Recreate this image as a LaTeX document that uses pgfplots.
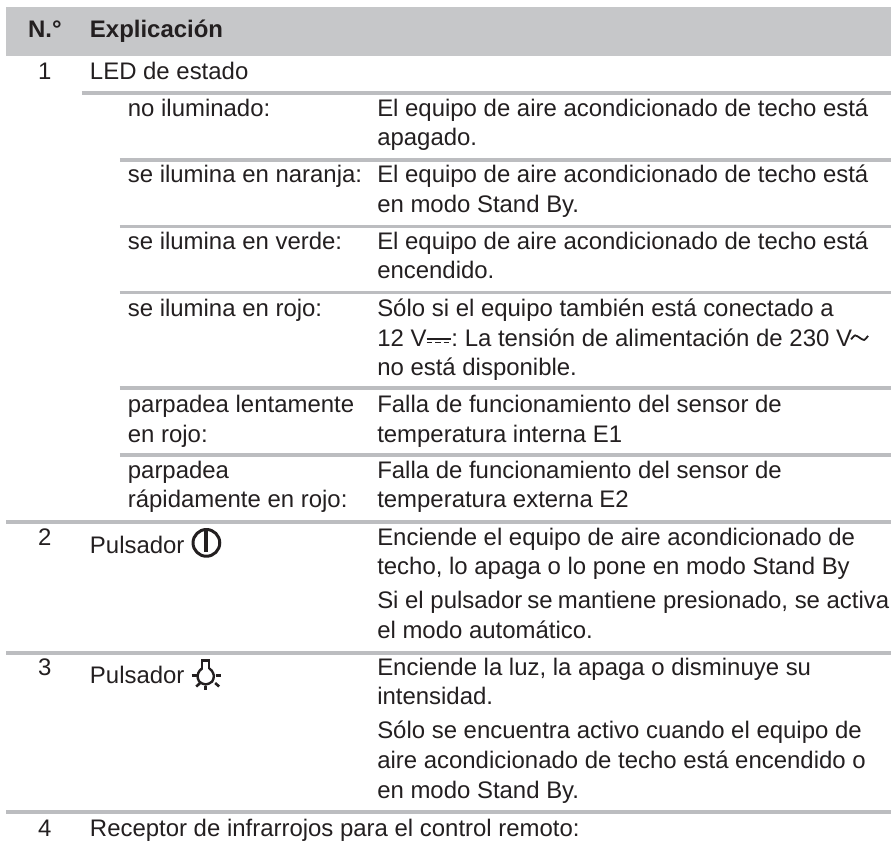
\documentclass[border=0pt]{standalone}
\usepackage{pgfplots}
\pgfplotsset{compat=1.18}
\usepackage{fontspec}
\setmainfont{Liberation Sans}
\definecolor{hdr}{HTML}{C6C7C9}
\definecolor{rul}{HTML}{BCBDC0}
\definecolor{txt}{HTML}{231F20}
\newcommand{\T}[3]{\node[anchor=base west,inner sep=0pt,outer sep=0pt,text=txt,font=\fontsize{24}{29}\selectfont] at (axis cs:#1,#2) {#3};}
\newcommand{\B}[3]{\node[anchor=base west,inner sep=0pt,outer sep=0pt,text=txt,font=\fontsize{24}{29}\selectfont\bfseries] at (axis cs:#1,#2) {#3};}
\begin{document}
\begin{tikzpicture}
\begin{axis}[x=1pt,y=1pt,xmin=0,xmax=893,ymin=0,ymax=847,y dir=reverse,axis lines=none,scale only axis,clip=false,
 anchor=north west,at={(0,0)}]
\addplot[draw=white,fill=white,forget plot] coordinates {(0,0)(893,0)(893,847)(0,847)} --cycle;
\addplot[draw=none,fill=hdr,forget plot] coordinates {(6,7)(893,7)(893,56)(6,56)} --cycle;
\pgfplotsinvokeforeach{93}{\addplot[rul,line width=4pt,forget plot] coordinates {(82,#1)(893,#1)};}
\pgfplotsinvokeforeach{160,227,293,389,456}{\addplot[rul,line width=3.6pt,forget plot] coordinates {(120,#1)(893,#1)};}
\pgfplotsinvokeforeach{523,654,814}{\addplot[rul,line width=4pt,forget plot] coordinates {(6,#1)(893,#1)};}
\B{28}{37}{N.°}
\B{90}{37}{Explicación}
\T{38}{79}{1}
\T{90}{79}{LED de estado}
\T{128}{117}{no iluminado:}
\T{378}{117}{El equipo de aire acondicionado de techo está}
\T{378}{146}{apagado.}
\T{128}{183}{se ilumina en naranja:}
\T{378}{183}{El equipo de aire acondicionado de techo está}
\T{378}{213}{en modo Stand By.}
\T{128}{250}{se ilumina en verde:}
\T{378}{250}{El equipo de aire acondicionado de techo está}
\T{378}{279}{encendido.}
\T{128}{317}{se ilumina en rojo:}
\T{378}{317}{Sólo si el equipo también está conectado a}
\T{378}{347}{12 V\hspace{25pt}: La tensión de alimentación de 230 V}
\T{378}{376}{no está disponible.}
\T{128}{413}{parpadea lentamente}
\T{128}{443}{en rojo:}
\T{378}{413}{Falla de funcionamiento del sensor de}
\T{378}{443}{temperatura interna E1}
\T{128}{479}{parpadea}
\T{128}{509}{rápidamente en rojo:}
\T{378}{479}{Falla de funcionamiento del sensor de}
\T{378}{509}{temperatura externa E2}
\T{38}{547}{2}
\T{90}{555}{Pulsador}
\T{378}{547}{Enciende el equipo de aire acondicionado de}
\T{378}{576}{techo, lo apaga o lo pone en modo Stand By}
\T{378}{610}{Si el pulsador\hspace{-1.5pt} se\hspace{-1.5pt} mantiene presionado, se activa}
\T{378}{640}{el modo automático.}
\T{38}{677}{3}
\T{90}{685}{Pulsador}
\T{378}{677}{Enciende la luz, la apaga o disminuye su}
\T{378}{706}{intensidad.}
\T{378}{740}{Sólo se encuentra activo cuando el equipo de}
\T{378}{770}{aire acondicionado de techo está encendido o}
\T{378}{800}{en modo Stand By.}
\T{38}{838}{4}
\T{90}{838}{Receptor de infrarrojos para el control remoto:}
% DC symbol
\addplot[txt,line width=1.5pt,forget plot] coordinates {(427.5,339.5)(451.5,339.5)};
\addplot[txt,line width=1.5pt,dash pattern=on 5.5pt off 3pt,forget plot] coordinates {(427.5,343)(451.5,343)};
% AC symbol
\addplot[txt,line width=1.8pt,smooth,forget plot] coordinates {(853,340)(857,336)(861.5,338.3)(866,340.6)(870,336.5)};
% power icon
\draw[txt,line width=3pt] (axis cs:206.7,544) circle[radius=13.4pt];
\addplot[txt,line width=4pt,forget plot] coordinates {(206.7,532)(206.7,553)};
% lamp icon
\addplot[txt,line width=2.4pt,smooth,forget plot] coordinates {(202.5,670)(200,672)(197.8,677)(199.5,683)(206,686)(212.5,683)(214.2,677)(212,672)(209.5,670)};
\addplot[txt,line width=2.4pt,forget plot] coordinates {(202.5,670.5)(202.5,662)(209.5,662)(209.5,670.5)};
\addplot[txt,line width=2.6pt,forget plot] coordinates {(192,677)(197,677)};
\addplot[txt,line width=2.6pt,forget plot] coordinates {(216,677)(221.5,677)};
\addplot[txt,line width=2.6pt,forget plot] coordinates {(196.5,688)(200.5,684.5)};
\addplot[txt,line width=2.6pt,forget plot] coordinates {(206,687.5)(206,691.5)};
\addplot[txt,line width=2.6pt,forget plot] coordinates {(215.5,684.5)(219.5,688)};
\end{axis}
\end{tikzpicture}
\end{document}
